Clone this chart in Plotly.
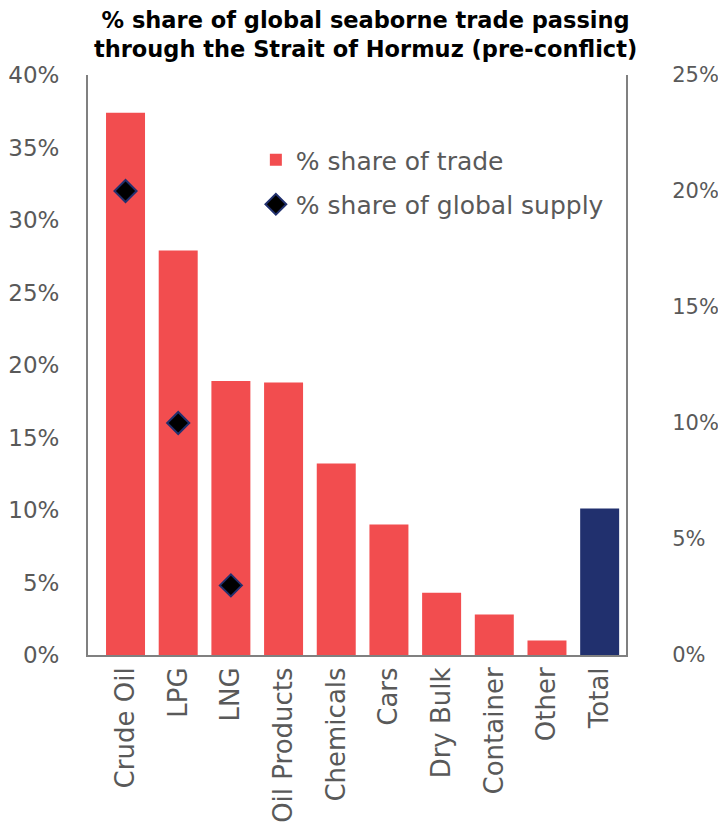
import plotly.graph_objects as go

categories = ["Crude Oil", "LPG", "LNG", "Oil Products", "Chemicals", "Cars",
              "Dry Bulk", "Container", "Other", "Total"]
share_of_trade = [37.4, 27.9, 18.9, 18.8, 13.2, 9.0, 4.3, 2.8, 1.0, 10.1]
supply_categories = ["Crude Oil", "LPG", "LNG"]
share_of_supply = [20, 10, 3]

red = "#F24D4F"
navy = "#21306E"
bar_colors = [navy if c == "Total" else red for c in categories]

font_family = "'DejaVu Sans', sans-serif"
gray = "#595959"

fig = go.Figure()
fig.add_trace(go.Bar(
    x=categories, y=share_of_trade, name="% share of trade",
    marker=dict(color=bar_colors, line=dict(width=0)),
    width=0.74, yaxis="y", legendgroup="a",
))
fig.add_trace(go.Scatter(
    x=supply_categories, y=share_of_supply, name="% share of global supply",
    mode="markers", yaxis="y2", legendgroup="b",
    marker=dict(symbol="diamond", size=17, color="black",
                line=dict(color=navy, width=2)),
))

fig.add_annotation(
    text="<b>% share of global seaborne trade passing<br>through the Strait of Hormuz (pre-conflict)</b>",
    xref="paper", yref="paper", x=0.515, y=1.0, yshift=70, yanchor="top",
    xanchor="center", showarrow=False, align="center",
    font=dict(family=font_family, size=22.5, color="black"),
)

fig.update_layout(
    width=718, height=827,
    paper_bgcolor="white", plot_bgcolor="white",
    margin=dict(l=88, r=92, t=75, b=172, autoexpand=False),
    font=dict(family=font_family, color=gray),
    showlegend=True,
    legend=dict(
        x=0.312, y=0.893, xanchor="left", yanchor="top",
        font=dict(size=25, color=gray), bgcolor="rgba(0,0,0,0)",
        itemwidth=30, tracegroupgap=9, traceorder="grouped",
    ),
    xaxis=dict(
        tickangle=-90, tickfont=dict(size=26, color=gray),
        showline=True, linecolor="#808080", linewidth=2,
        showgrid=False, ticks="", ticklen=0, automargin=False,
    ),
    yaxis=dict(
        range=[0, 40], dtick=5, ticksuffix="%",
        tickfont=dict(size=23, color=gray),
        showline=True, linecolor="#808080", linewidth=2,
        showgrid=False, zeroline=False, ticks="", ticklabelstandoff=22,
        automargin=False,
    ),
    yaxis2=dict(
        range=[0, 25], dtick=5, ticksuffix="%", overlaying="y", side="right",
        tickfont=dict(size=21, color=gray),
        showline=True, linecolor="#808080", linewidth=2,
        showgrid=False, zeroline=False, ticks="", ticklabelstandoff=40,
        automargin=False,
    ),
)

fig.write_html(
    "out.html",
    config={"displayModeBar": False},
    post_script="document.body.style.margin='0';document.body.style.overflow='hidden';",
)
